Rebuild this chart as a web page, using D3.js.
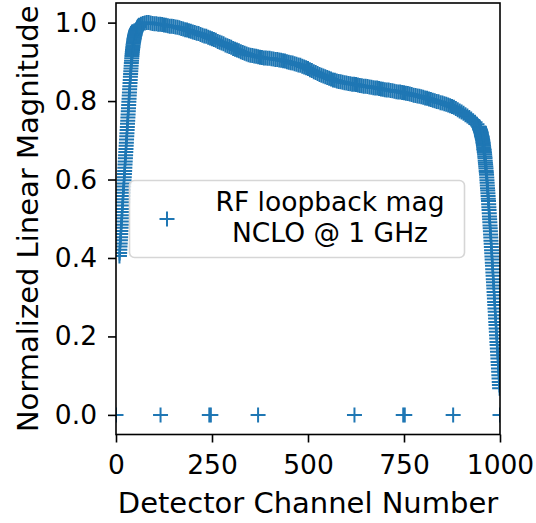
<!DOCTYPE html>
<html><head><meta charset="utf-8">
<script src="https://cdn.jsdelivr.net/npm/d3@7"></script>
<style>body{margin:0;background:#fff} text{font-family:"DejaVu Sans",sans-serif;fill:#000}</style>
</head><body><svg id="c" width="536" height="523"></svg>
<script>
// Channels where the loopback magnitude is zero
const zeroChannels = [0, 116, 243, 247, 370, 621, 748, 752, 878, 1000];
// Rising edge: channels 9 .. 60, step 0.5
const riseStart = 9, riseStep = 0.5;
const riseMag = [0.405,0.413,0.421,0.429,0.437,0.445,0.453,0.461,0.469,0.477,0.485,0.493,0.501,0.509,0.517,0.525,0.534,0.542,
0.550,0.558,0.566,0.574,0.582,0.590,0.598,0.606,0.614,0.622,0.630,0.638,0.646,0.654,0.662,0.670,0.678,0.686,0.694,0.702,
0.710,0.718,0.726,0.734,0.742,0.750,0.758,0.766,0.774,0.782,0.790,0.798,0.806,0.814,0.822,0.830,0.838,0.846,0.854,0.862,
0.869,0.876,0.883,0.890,0.897,0.903,0.909,0.915,0.920,0.925,0.930,0.934,0.938,0.942,0.946,0.949,0.952,0.955,0.958,0.961,
0.964,0.966,0.968,0.970,0.972,0.974,0.976,0.977,0.979,0.980,0.981,0.982,0.983,0.984,0.985,0.986,0.987,0.988,0.989,0.989,
0.990,0.991,0.991,0.992,0.993];
// Passband: channels 65 .. 940, step 5
const midStart = 65, midStep = 5;
const midMag = [0.996,
0.998,0.999,1.000,1.000,0.999,0.998,0.997,0.997,0.996,0.996,
0.995,0.994,0.993,0.992,0.991,0.991,0.990,0.989,0.988,0.987,
0.985,0.984,0.982,0.981,0.979,0.978,0.976,0.975,0.973,0.972,
0.970,0.968,0.966,0.965,0.963,0.961,0.959,0.957,0.955,0.952,
0.950,0.948,0.946,0.943,0.941,0.939,0.937,0.934,0.932,0.930,
0.928,0.926,0.924,0.922,0.920,0.918,0.917,0.916,0.915,0.914,
0.913,0.912,0.911,0.910,0.910,0.909,0.909,0.908,0.907,0.906,
0.906,0.905,0.904,0.903,0.902,0.900,0.899,0.898,0.897,0.895,
0.894,0.892,0.891,0.889,0.887,0.885,0.883,0.880,0.878,0.875,
0.873,0.870,0.868,0.866,0.864,0.862,0.860,0.858,0.856,0.854,
0.853,0.851,0.850,0.849,0.848,0.847,0.846,0.845,0.844,0.843,
0.843,0.842,0.841,0.840,0.839,0.838,0.838,0.837,0.836,0.835,
0.834,0.833,0.833,0.832,0.831,0.830,0.829,0.828,0.828,0.827,
0.826,0.825,0.824,0.823,0.823,0.822,0.821,0.820,0.819,0.818,
0.817,0.815,0.814,0.813,0.812,0.811,0.810,0.808,0.807,0.805,
0.804,0.802,0.801,0.799,0.798,0.796,0.795,0.793,0.792,0.790,
0.788,0.786,0.784,0.781,0.778,0.775,0.772,0.769,0.765,0.762,
0.758,0.754,0.750,0.746,0.741];
// Falling edge: channels 945 .. 999, step 0.5
const dropStart = 945, dropStep = 0.5;
const dropMag = [0.735,0.734,0.733,0.732,0.730,0.729,0.727,0.726,0.724,0.723,
0.722,0.720,0.718,0.715,0.713,0.711,0.709,0.707,0.704,0.702,
0.700,0.696,0.693,0.689,0.686,0.682,0.678,0.675,0.671,0.668,
0.664,0.659,0.654,0.648,0.643,0.638,0.633,0.628,0.622,0.617,
0.612,0.605,0.598,0.592,0.585,0.578,0.572,0.565,0.558,0.551,
0.545,0.537,0.529,0.522,0.514,0.506,0.499,0.491,0.483,0.476,
0.468,0.460,0.452,0.444,0.436,0.428,0.420,0.412,0.404,0.396,
0.388,0.380,0.371,0.363,0.355,0.346,0.338,0.330,0.322,0.313,
0.305,0.297,0.288,0.280,0.271,0.263,0.254,0.246,0.237,0.229,
0.220,0.212,0.203,0.195,0.186,0.178,0.169,0.161,0.152,0.144,
0.135,0.127,0.118,0.110,0.101,0.093,0.084,0.076,0.068];
const xTicks = [0, 250, 500, 750, 1000];
const yTicks = [0, 0.2, 0.4, 0.6, 0.8, 1.0];
const xLabel = "Detector Channel Number";
const yLabel = "Normalized Linear Magnitude";
const legendLines = ["RF loopback mag", "NCLO @ 1 GHz"];

const color = "#1f77b4";
const L = 116, R = 500, T = 3, B = 434.5;
const x = d3.scaleLinear().domain([0, 1000]).range([L, R]);
const y = d3.scaleLinear().domain([-0.05, 1.05]).range([B, T]);

const pts = [];
zeroChannels.forEach(c => pts.push({ch: c, mag: 0}));
riseMag.forEach((m, i) => pts.push({ch: riseStart + i * riseStep, mag: m}));
midMag.forEach((m, i) => pts.push({ch: midStart + i * midStep, mag: m}));
dropMag.forEach((m, i) => pts.push({ch: dropStart + i * dropStep, mag: m}));

const svg = d3.select("#c");
svg.append("defs").append("clipPath").attr("id", "clip")
  .append("rect").attr("x", L).attr("y", T).attr("width", R - L).attr("height", B - T);

const ms = 7.5;
const plus = (cx, cy) => `M${cx - ms},${cy}H${cx + ms}M${cx},${cy - ms}V${cy + ms}`;

svg.append("g").attr("clip-path", "url(#clip)")
  .selectAll("path").data(pts).join("path")
  .attr("d", d => plus(x(d.ch), y(d.mag)))
  .attr("stroke", color).attr("stroke-width", 2).attr("fill", "none");

// axes
const fs = 26.5;
const gx = svg.append("g").attr("transform", `translate(0,${B})`)
  .call(d3.axisBottom(x).tickValues(xTicks).tickSize(8).tickPadding(13).tickFormat(d3.format("d")));
const gy = svg.append("g").attr("transform", `translate(${L},0)`)
  .call(d3.axisLeft(y).tickValues(yTicks).tickSize(8).tickPadding(11).tickFormat(d3.format(".1f")));
[gx, gy].forEach(g => {
  g.select(".domain").remove();
  g.selectAll(".tick line").attr("stroke", "#000").attr("stroke-width", 1.6);
  g.selectAll(".tick text").attr("font-size", fs).attr("font-family", "DejaVu Sans").attr("fill", "#000");
});

// frame
svg.append("rect").attr("x", L).attr("y", T).attr("width", R - L).attr("height", B - T)
  .attr("fill", "none").attr("stroke", "#000").attr("stroke-width", 1.6);

// labels
svg.append("text").attr("x", (L + R) / 2).attr("y", 512.5).attr("text-anchor", "middle")
  .attr("font-size", 29).text(xLabel);
svg.append("text").attr("transform", `translate(38,${(T + B) / 2}) rotate(-90)`).attr("text-anchor", "middle")
  .attr("font-size", 29).text(yLabel);

// legend
const lg = svg.append("g");
lg.append("rect").attr("x", 129.5).attr("y", 180.5).attr("width", 335).attr("height", 77).attr("rx", 5)
  .attr("fill", "#fff").attr("fill-opacity", 0.8).attr("stroke", "#d6d6d6").attr("stroke-width", 1.6);
lg.append("path").attr("d", plus(167, 219)).attr("stroke", color).attr("stroke-width", 2);
lg.selectAll("text.l").data(legendLines).join("text").attr("class", "l")
  .attr("x", 330).attr("y", (d, i) => 211 + i * 31).attr("text-anchor", "middle")
  .attr("font-size", fs).text(d => d);
</script></body></html>
